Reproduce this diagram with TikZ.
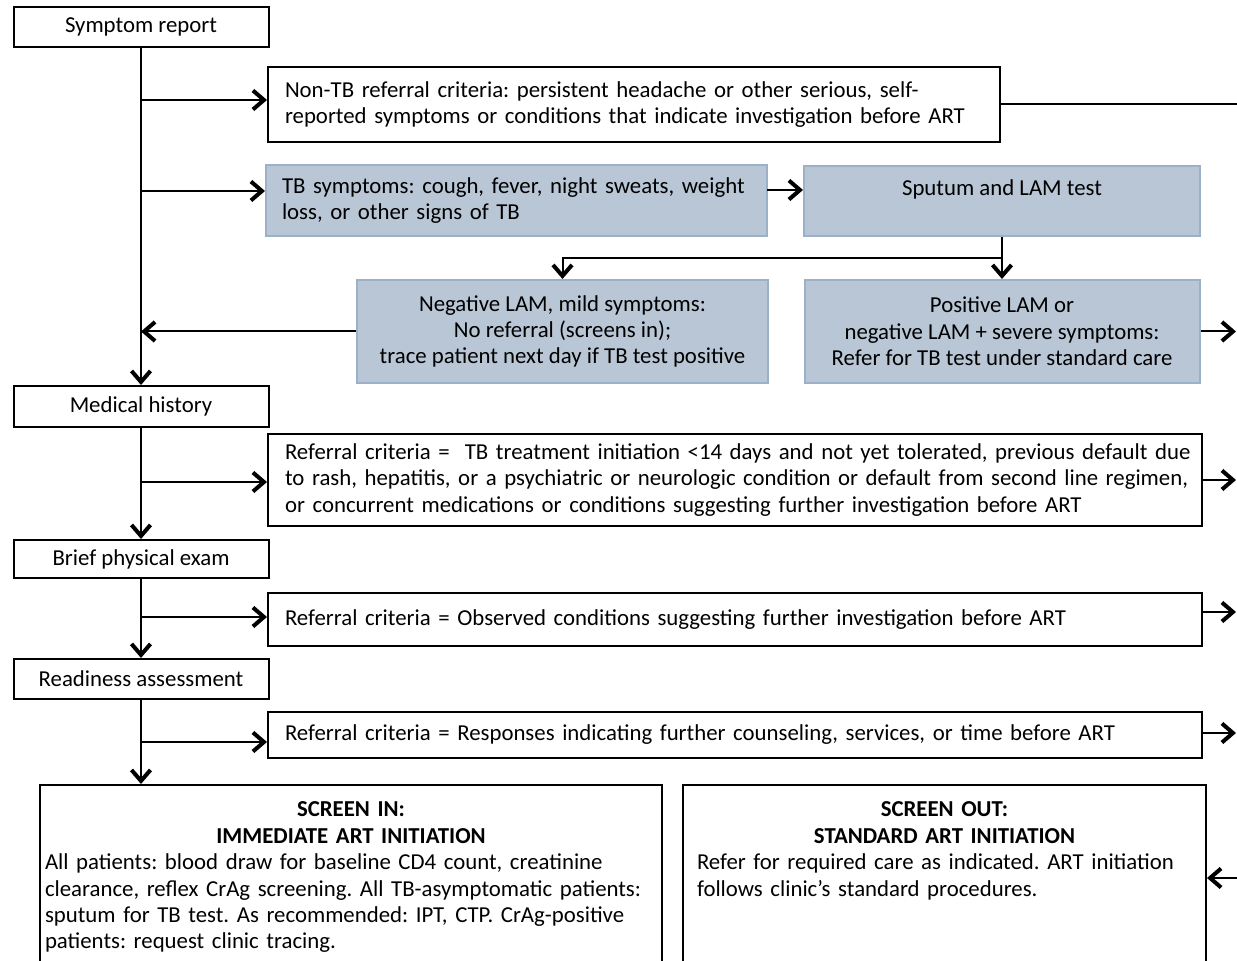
\documentclass[tikz,border=0pt]{standalone}
\usepackage{fontspec}
\setmainfont{Carlito}
\usetikzlibrary{arrows.meta}
\definecolor{tbfill}{HTML}{B9C6D5}
\definecolor{tbdraw}{HTML}{9CB0C8}
\newcommand{\myleftline}[1]{\makebox[\linewidth][l]{#1}}
\newcommand{\mycenterline}[1]{\makebox[\linewidth][c]{#1}}
\begin{document}
\frenchspacing
\begin{tikzpicture}[x=0.5pt,y=-0.5pt,
  font=\fontsize{11.4}{13.2}\selectfont,
  box/.style={draw=black,line width=1pt,inner sep=0pt,align=center},
  lbox/.style={draw=black,line width=1pt,inner ysep=0pt,inner xsep=8.5pt,align=left},
  tbbox/.style={draw=tbdraw,fill=tbfill,line width=1pt,inner sep=0pt,align=center},
  conn/.style={line width=1pt},
  arr/.style={line width=1pt,-{Straight Barb[length=5.5pt,width=9.5pt,line width=2pt]}}
]
\clip (0,0) rectangle (1237,961);
% left column boxes
\node[box,minimum width=127.5pt,minimum height=20pt] (sr) at (141,27) {Symptom report};
\node[box,minimum width=127.5pt,minimum height=20.5pt] (mh) at (141,406.5) {Medical history};
\node[box,minimum width=127.5pt,minimum height=19pt] (bpe) at (141,559) {Brief physical exam};
\node[box,minimum width=127.5pt,minimum height=20pt] (ra) at (141,679) {Readiness assessment};
% referral boxes
\node[lbox,text width=349pt,minimum height=37.5pt] (nontb) at (634,104.5)
  {\myleftline{Non-TB referral criteria: persistent headache or other serious, self-}\\
   \myleftline{reported symptoms or conditions that indicate investigation before ART}};
\node[tbbox,align=left,inner xsep=8pt,text width=234.5pt,minimum height=35.5pt] (tbs) at (516.5,200.5)
  {\myleftline{TB symptoms: cough, fever, night sweats, weight}\\
   \myleftline{loss, or other signs of TB}};
\node[tbbox,minimum width=198pt,text height=15pt,text depth=20pt] (sput) at (1002,201) {Sputum and LAM test};
\node[tbbox,minimum width=205.5pt,minimum height=51.5pt] (neg) at (562.5,331.5)
  {Negative LAM, mild symptoms:\\No referral (screens in);\\trace patient next day if TB test positive};
\node[tbbox,minimum width=197.5pt,minimum height=51.5pt] (pos) at (1002,331.5)
  {Positive LAM or\\negative LAM + severe symptoms:\\Refer for TB test under standard care};
\node[lbox,text width=450pt,minimum height=46pt] (r1) at (735,480)
  {\myleftline{Referral criteria =\ \ TB treatment initiation <14 days and not yet tolerated, previous default due}\\
   \myleftline{to rash, hepatitis, or a psychiatric or neurologic condition or default from second line regimen,}\\
   \myleftline{or concurrent medications or conditions suggesting further investigation before ART}};
\node[lbox,text width=450pt,minimum height=26.5pt] (r2) at (735,619.5)
  {\myleftline{Referral criteria = Observed conditions suggesting further investigation before ART}};
\node[lbox,text width=450pt,minimum height=23pt] (r3) at (735,735)
  {\myleftline{Referral criteria = Responses indicating further counseling, services, or time before ART}};
% bottom boxes
\node[draw=black,line width=1pt,anchor=north,inner xsep=2.5pt,inner ysep=8.5pt,text width=306pt,align=left,text depth=150pt] (sin) at (351,784)
  {\mycenterline{\bfseries SCREEN IN:}\\
   \mycenterline{\bfseries IMMEDIATE ART INITIATION}\\
   \myleftline{All patients: blood draw for baseline CD4 count, creatinine}\\
   \myleftline{clearance, reflex CrAg screening. All TB-asymptomatic patients:}\\
   \myleftline{sputum for TB test. As recommended: IPT, CTP. CrAg-positive}\\
   \myleftline{patients: request clinic tracing.}};
\node[draw=black,line width=1pt,anchor=north,inner xsep=7pt,inner ysep=8.5pt,text width=247.5pt,align=left,text depth=150pt] (sout) at (944.5,784)
  {\mycenterline{\bfseries SCREEN OUT:}\\
   \mycenterline{\bfseries STANDARD ART INITIATION}\\
   \myleftline{Refer for required care as indicated. ART initiation}\\
   \myleftline{follows clinic’s standard procedures.}};
% trunk coordinates
\coordinate (t1) at (141,100);
\coordinate (t2) at (141,191);
\coordinate (t4) at (141,482);
\coordinate (t5) at (141,617);
\coordinate (t6) at (141,742);
\coordinate (a1) at (767,190);
\coordinate (sp) at (1002,258);
% right edge coordinates
\coordinate (e0) at (1240,104.5);
\coordinate (e1) at (1236,331.5);
\coordinate (e2) at (1236,480);
\coordinate (e3) at (1236,612);
\coordinate (e4) at (1236,733);
\coordinate (e5) at (1240,878);
% trunk
\draw[arr] (sr.south) -- (mh.north);
\draw[arr] (mh.south) -- (bpe.north);
\draw[arr] (bpe.south) -- (ra.north);
\draw[arr] (ra.south) -- (sin.north -| ra.south);
% branches
\draw[arr] (t1) -- (t1 -| nontb.west);
\draw[arr] (t2) -- (t2 -| tbs.west);
\draw[arr] (a1) -- (a1 -| sput.west);
\draw[arr] (sput.south) -- (pos.north);
\draw[arr] (sp) -| (neg.north);
\draw[arr] (neg.west) -- (neg.west -| mh.north);
\draw[arr] (t4) -- (t4 -| r1.west);
\draw[arr] (t5) -- (t5 -| r2.west);
\draw[arr] (t6) -- (t6 -| r3.west);
% right side
\draw[conn] (nontb.east) -- (e0);
\draw[arr] (pos.east) -- (e1);
\draw[arr] (r1.east) -- (e2);
\draw[arr] (e3 -| r2.east) -- (e3);
\draw[arr] (e4 -| r3.east) -- (e4);
\draw[arr] (e5) -- (e5 -| sout.east);
\end{tikzpicture}
\end{document}
